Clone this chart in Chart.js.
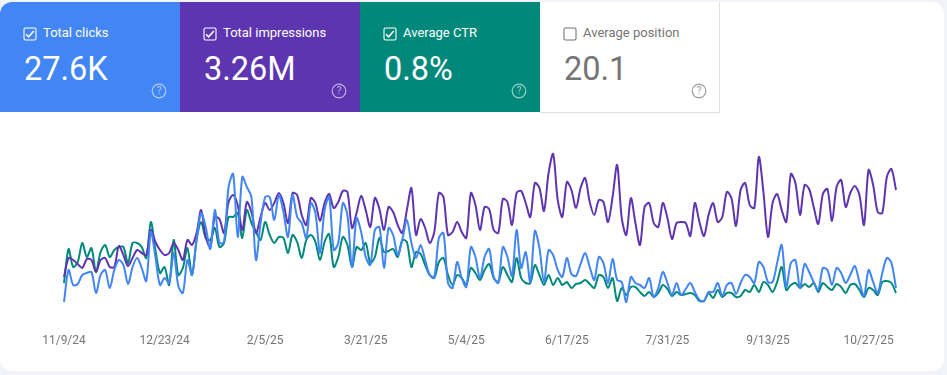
<!DOCTYPE html>
<html>
<head>
<meta charset="utf-8">
<title>Performance</title>
<script src="https://cdn.jsdelivr.net/npm/chart.js@4"></script>
<style>
  html, body { margin: 0; padding: 0; }
  body { width: 947px; height: 375px; background: #f1f3f9; overflow: hidden; font-family: Roboto, sans-serif; position: relative; }
  #card { position: absolute; left: 0; top: 2px; width: 944px; height: 369px; background: #fff; border-radius: 12px; overflow: hidden; }
  .tile { position: absolute; top: 0; width: 180px; height: 110px; color: #fff; box-sizing: border-box; }
  .tile .name { position: absolute; left: 43px; top: 23px; font-size: 13px; line-height: 16px; }
  .tile .num { position: absolute; left: 24px; top: 47px; font-size: 32.5px; line-height: 40px; }
  .tile svg { position: absolute; }
  .tile .box { left: 23px; top: 25px; }
  .tile .help { left: 151px; top: 81px; }
  #chartWrap { position: absolute; left: 0; top: 128px; }
</style>
</head>
<body>
<div id="card">
  <div id="tiles"></div>
  <div id="chartWrap"><canvas id="perf" width="947" height="220"></canvas></div>
</div>
<script>
var tileNames = ["Total clicks", "Total impressions", "Average CTR", "Average position"];
var tileValues = ["27.6K", "3.26M", "0.8%", "20.1"];
var tileColors = ["#4285f4", "#5e35b1", "#00897b", "#ffffff"];
var tileChecked = [true, true, true, false];

var tickLabels = ["11/9/24", "12/23/24", "2/5/25", "3/21/25", "5/4/25", "6/17/25", "7/31/25", "9/13/25", "10/27/25"];

var clicks = [
  18,50,35,36,45,47,48,27,45,50,32,50,60,55,36,53,62,52,39,88,63,35,42,
  37,67,34,27,60,45,80,107,93,71,110,77,78,133,146,83,143,133,123,60,97,123,123,
  100,125,108,83,125,103,97,82,117,107,67,110,123,70,77,117,105,53,102,88,63,55,90,
  93,52,92,85,65,80,100,77,62,75,60,45,43,82,87,37,32,58,42,33,73,63,42,
  63,71,43,37,73,63,44,90,52,68,38,89,72,38,70,65,50,43,62,46,44,56,67,
  53,40,63,57,37,61,40,38,18,43,37,35,32,42,23,32,48,37,25,37,25,31,37,
  28,20,19,28,28,37,24,35,37,26,37,45,43,37,58,53,38,38,57,75,33,57,60,
  32,56,48,38,30,52,50,35,52,47,37,45,54,38,24,50,38,27,47,62,57,32
];
var impressions = [
  43,62,60,56,52,61,60,48,60,62,53,53,74,65,54,62,70,67,65,90,78,70,65,
  67,77,70,60,80,75,87,110,83,73,103,101,87,118,125,115,90,118,108,87,103,117,110,
  117,127,117,97,127,125,105,95,122,117,99,117,126,112,118,129,128,92,107,124,110,93,122,
  111,90,113,108,95,87,110,132,85,101,92,77,88,127,123,85,88,98,88,82,127,115,90,
  113,111,90,87,121,118,95,127,129,117,103,137,132,109,147,166,120,103,138,130,112,132,142,
  118,105,120,118,98,123,155,102,85,122,97,75,113,117,97,93,117,102,81,97,98,97,84,
  117,98,84,105,117,98,103,128,122,94,130,137,115,112,163,128,83,117,126,110,98,146,137,
  105,135,131,113,96,126,131,99,133,140,113,127,134,125,95,150,135,108,107,143,151,130
];
var ctr = [
  37,71,53,58,77,63,72,48,68,75,63,70,73,73,57,77,77,73,62,98,70,47,53,
  35,80,45,52,72,45,80,98,82,80,92,73,77,103,103,107,82,110,97,88,80,98,85,
  77,83,82,67,85,78,62,80,85,78,60,78,86,53,63,83,75,53,73,70,77,57,63,
  82,68,69,71,63,80,78,53,68,66,55,45,42,58,62,45,35,45,42,35,52,47,40,
  50,56,42,38,53,45,38,62,42,37,37,55,45,35,45,35,42,35,38,32,36,37,40,
  36,32,45,43,32,42,19,32,25,33,33,28,24,28,23,27,35,31,24,28,25,26,27,
  25,19,19,27,22,30,23,27,27,23,24,30,28,35,28,38,35,28,38,53,30,35,37,
  32,36,33,37,28,37,33,30,36,33,27,35,36,30,23,32,30,25,38,39,37,27
];

// one category every 2 days from the first date
var categories = [];
for (var i = 0; i < clicks.length; i++) {
  var d = new Date(2024, 10, 9 + i * 2);
  categories.push((d.getMonth() + 1) + "/" + d.getDate() + "/" + String(d.getFullYear()).slice(2));
}

// metric tiles
var html = "";
for (var t = 0; t < tileNames.length; t++) {
  var plain = tileColors[t] == "#ffffff";
  var fg = plain ? "#757575" : "#fff";
  var helpColor = plain ? "#9e9e9e" : "rgba(255,255,255,.6)";
  var tick = tileChecked[t] ? '<path d="M3 7.2l2.6 2.6L10.8 4" fill="none" stroke="' + fg + '" stroke-width="1.6"/>' : "";
  html += '<div class="tile" style="left:' + (t * 180) + 'px;background:' + tileColors[t] + ';' +
    (plain ? 'box-shadow:inset -1px -1px 0 #e0e0e0;height:111px;' : '') + '">' +
    '<svg class="box" width="14" height="14" viewBox="0 0 14 14"><rect x="1" y="1" width="12" height="12" rx="1.5" fill="none" stroke="' + fg + '" stroke-width="1.1"/>' + tick + '</svg>' +
    '<div class="name" style="color:' + fg + '">' + tileNames[t] + '</div>' +
    '<div class="num" style="color:' + fg + '">' + tileValues[t] + '</div>' +
    '<svg class="help" width="16" height="16" viewBox="0 0 16 16"><circle cx="8" cy="8" r="6.8" fill="none" stroke="' + helpColor + '" stroke-width="1.2"/>' +
    '<text x="8" y="11.4" text-anchor="middle" font-size="10" font-family="Roboto" fill="' + helpColor + '">?</text></svg>' +
    '</div>';
}
document.getElementById("tiles").innerHTML = html;

var ctx = document.getElementById("perf");
var perfChart = new Chart(ctx, {
  type: 'line',
  data: {
    labels: categories,
    datasets: [
      { label: "Total clicks", data: clicks, borderColor: '#4285f4', order: 1 },
      { label: "Total impressions", data: impressions, borderColor: '#5e35b1', order: 2 },
      { label: "Average CTR", data: ctr, borderColor: '#00897b', order: 3 }
    ]
  },
  options: {
    responsive: false,
    animation: false,
    layout: { padding: { left: 64, right: 51, top: 10, bottom: 0 } },
    elements: {
      line: { borderWidth: 2, tension: 0.3, borderJoinStyle: 'round' },
      point: { radius: 0 }
    },
    plugins: {
      legend: { display: false },
      title: { display: false },
      tooltip: { enabled: false }
    },
    scales: {
      y: { display: false, min: 0, max: 180 },
      x: {
        grid: { display: false },
        border: { display: false },
        afterFit: function(scale) { scale.height = 30; },
        ticks: {
          autoSkip: false,
          maxRotation: 0,
          minRotation: 0,
          padding: 6,
          color: '#757575',
          font: { family: 'Roboto', size: 12 },
          callback: function(value) {
            var label = this.getLabelForValue(value);
            return tickLabels.indexOf(label) >= 0 ? label : null;
          }
        }
      }
    }
  }
});
</script>
</body>
</html>
